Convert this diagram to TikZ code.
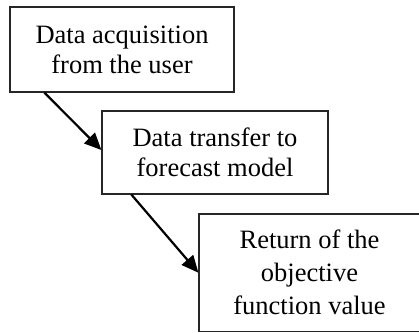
\documentclass[tikz,border=0pt]{standalone}
\usepackage{fontspec}
\setmainfont{Liberation Serif}
\usetikzlibrary{arrows.meta}
\tikzset{
  stepbox/.style={draw=black!85, line width=1.2pt, inner sep=0pt, align=center,
    font=\fontsize{26.5}{30}\selectfont},
  flow/.style={line width=2.2pt, -{Triangle[length=17pt,width=15pt]}}
}
\begin{document}
\begin{tikzpicture}[x=1pt, y=-1pt]
  \useasboundingbox (0,0) rectangle (419,332);
  \node[stepbox, minimum width=224pt, minimum height=85pt] (b1) at (122,49.5)
    {Data acquisition\\from the user};
  \node[stepbox, minimum width=226pt, minimum height=83pt] (b2) at (215,152.5)
    {Data transfer to\\forecast model};
  \node[stepbox, minimum width=221pt, minimum height=117.5pt,
        font=\fontsize{26.5}{33}\selectfont] (b3) at (309.5,272.75)
    {Return of the\\objective\\function value};
  \draw[flow] ([xshift=35pt]b1.south west) -- ([yshift=2.5pt]b2.west);
  \draw[flow] ([xshift=30pt]b2.south west) -- (b3.west);
\end{tikzpicture}
\end{document}
